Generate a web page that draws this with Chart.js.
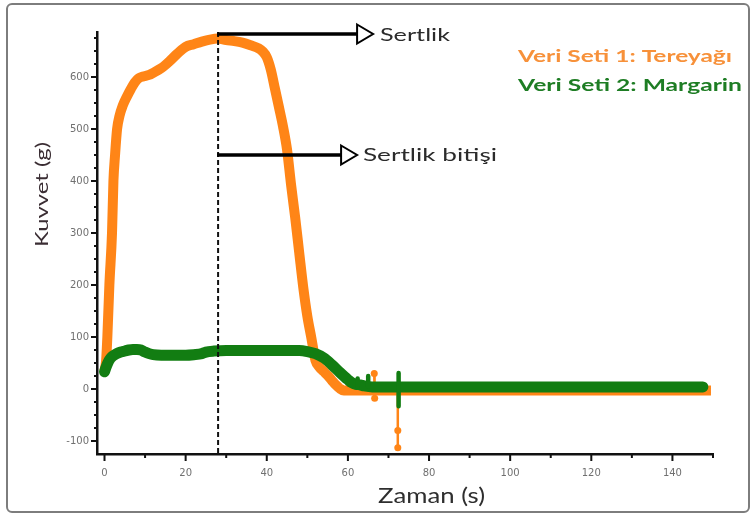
<!DOCTYPE html>
<html>
<head>
<meta charset="utf-8">
<script src="https://cdn.jsdelivr.net/npm/chart.js@4/dist/chart.umd.min.js"></script>
<style>
  html, body { margin: 0; padding: 0; background: #fff; }
  canvas { display: block; }
</style>
</head>
<body>
<canvas id="chart" width="753" height="516"></canvas>
<script>
// Texture analyser run: force (g) against time (s)
const butterTime = [0, 0.4, 0.7, 1.2, 1.85, 2.2, 2.6, 3.1, 3.7, 4.5,
  5.5, 6.5, 7.5, 8.5, 9.5, 11, 12, 14, 15, 16,
  18, 20, 22, 24, 26, 28, 30, 32, 34, 36,
  38, 39, 40, 41, 42, 43, 44, 45, 46, 47,
  48, 49, 50, 51, 52, 53, 54, 55, 56, 57,
  58, 59, 60, 70, 80, 100, 120, 140, 149.5];
const butterForce = [35, 55, 100, 200, 300, 400, 450, 500, 525, 545,
  562, 577, 590, 598, 601, 604, 608, 617, 623, 630,
  645, 658, 663, 668, 672, 674, 671, 669, 666, 661,
  655, 649, 638, 614, 578, 542, 505, 460, 392, 330,
  262, 195, 140, 98, 55, 42, 34, 26, 17, 8,
  1, -3, -3, -3, -3, -3, -3, -3, -3];

// short probe glitches in the butter trace (null breaks the line)
const butterSpikeTime = [66.5, 66.55, 66.6, 70, 72.3, 72.3, 72.3];
const butterSpikeForce = [30, -3, -18, null, -3, -80, -113];

const margarineTime = [0, 0.3, 0.7, 1.2, 2, 3, 4, 5, 6, 7,
  8, 9, 10, 11, 12, 14, 16, 18, 20, 22,
  24, 25, 27, 30, 35, 40, 45, 48, 50, 52,
  54, 56, 58, 60, 61, 62, 63, 64, 66, 70,
  80, 100, 120, 140, 147.5];
const margarineForce = [33, 40, 48, 56, 63, 68, 71, 73, 75, 76,
  76, 75, 71, 68, 66, 65, 65, 65, 65, 66,
  68, 71, 73, 74, 74, 74, 74, 74, 72, 68,
  60, 47, 32, 18, 12, 9, 8, 6, 4, 4,
  4, 4, 4, 4, 4];

const margarineSpikeTime = [62.4, 62.4, null, 65, 65, null, 72.5, 72.5];
const margarineSpikeForce = [5, 20, null, 5, 25, null, 31, -33];

const xTicks = [0, 20, 40, 60, 80, 100, 120, 140];
const yTicks = [-100, 0, 100, 200, 300, 400, 500, 600];

const hardnessTime = 28;      // end of hardness (dashed marker)
const hardnessEndForce = 450; // level of the lower arrow

const seriesNames = ['Veri Seti 1: Tereyağı', 'Veri Seti 2: Margarin'];

const ORANGE = '#FF8517';
const GREEN = '#127D12';
const TXT = 'Lato, "Open Sans", sans-serif';

function pairs(ts, vs) {
  return ts.map((t, i) => ({ x: t === null ? NaN : t, y: vs[i] }));
}

// text squeezed/stretched horizontally to a given width; cy = cap-height centre
function fitText(ctx, text, x, cy, width, size, weight, color, rotate) {
  ctx.save();
  ctx.font = weight + ' ' + size + 'px ' + TXT;
  ctx.fillStyle = color;
  ctx.textAlign = 'left';
  ctx.textBaseline = 'alphabetic';
  const w = ctx.measureText(text).width;
  if (rotate) {
    ctx.translate(cy + 0.36 * size, x);
    ctx.rotate(-Math.PI / 2);
  } else {
    ctx.translate(x, cy + 0.36 * size);
  }
  ctx.scale(width / w, 1);
  ctx.fillText(text, 0, 0);
  ctx.restore();
}

function arrow(ctx, x0, x1, y) {
  const head = 16, half = 9.5;
  ctx.save();
  ctx.strokeStyle = '#000';
  ctx.lineWidth = 3.5;
  ctx.beginPath();
  ctx.moveTo(x0, y);
  ctx.lineTo(x1 - head, y);
  ctx.stroke();
  ctx.lineWidth = 2;
  ctx.lineJoin = 'miter';
  ctx.fillStyle = '#fff';
  ctx.beginPath();
  ctx.moveTo(x1 - head, y - half);
  ctx.lineTo(x1, y);
  ctx.lineTo(x1 - head, y + half);
  ctx.closePath();
  ctx.fill();
  ctx.stroke();
  ctx.restore();
}

const decor = {
  id: 'decor',
  beforeDraw(chart) {
    const ctx = chart.ctx;
    ctx.save();
    ctx.fillStyle = '#fff';
    ctx.fillRect(0, 0, chart.width, chart.height);
    ctx.strokeStyle = '#7d7d7d';
    ctx.lineWidth = 2;
    ctx.beginPath();
    ctx.roundRect(7, 4, 742, 508, 5);
    ctx.stroke();
    ctx.restore();
  },
  afterDatasetsDraw(chart) {
    const ctx = chart.ctx;
    const xs = chart.scales.x, ys = chart.scales.y;
    const area = chart.chartArea;
    const xm = xs.getPixelForValue(hardnessTime);

    // dashed marker at end of hardness
    ctx.save();
    ctx.strokeStyle = '#111';
    ctx.lineWidth = 2;
    ctx.setLineDash([5, 3]);
    ctx.beginPath();
    ctx.moveTo(xm, area.top);
    ctx.lineTo(xm, area.bottom);
    ctx.stroke();
    ctx.restore();

    arrow(ctx, xm - 1, xm + 155, area.top + 2);
    arrow(ctx, xm - 1, xm + 139, ys.getPixelForValue(hardnessEndForce));

    fitText(ctx, 'Sertlik', 380, 34.5, 70, 18, 'normal', '#2b2b2b');
    fitText(ctx, 'Sertlik bitişi', 363, 155, 134, 18, 'normal', '#2b2b2b');
  },
  afterDraw(chart) {
    const ctx = chart.ctx;
    const xs = chart.scales.x, ys = chart.scales.y;
    const area = chart.chartArea;

    // tick marks: long at labelled values, short in between
    ctx.save();
    ctx.strokeStyle = '#111';
    ctx.lineWidth = 2;
    ctx.beginPath();
    for (let t = 0; t <= 150; t += 10) {
      const px = xs.getPixelForValue(t);
      const len = xTicks.includes(t) ? 7 : 4;
      ctx.moveTo(px, area.bottom);
      ctx.lineTo(px, area.bottom + len);
    }
    for (let v = -100; v <= 675; v += 25) {
      const py = ys.getPixelForValue(v);
      const len = yTicks.includes(v) ? 6 : 3;
      ctx.moveTo(area.left, py);
      ctx.lineTo(area.left - len, py);
    }
    ctx.stroke();
    ctx.restore();

    // series key
    fitText(ctx, seriesNames[0], 518, 55.5, 214, 17, 'bold', '#F7913A');
    fitText(ctx, seriesNames[1], 518, 84.5, 224, 17, 'bold', '#1E7D24');

    // axis titles
    fitText(ctx, 'Zaman (s)', 378, 495, 107, 22, 'normal', '#2e2e2e');
    fitText(ctx, 'Kuvvet (g)', 247, 41.5, 105, 18, 'normal', '#3a2d33', true);
  }
};

new Chart(document.getElementById('chart'), {
  type: 'line',
  data: {
    datasets: [
      {
        label: seriesNames[1] + ' (glitch)',
        data: pairs(margarineSpikeTime, margarineSpikeForce),
        borderColor: GREEN,
        backgroundColor: GREEN,
        borderWidth: 4.5,
        borderCapStyle: 'round',
        pointRadius: 0,
        spanGaps: false
      },
      {
        label: seriesNames[1],
        data: pairs(margarineTime, margarineForce),
        borderColor: GREEN,
        borderWidth: 11,
        borderCapStyle: 'round',
        borderJoinStyle: 'round',
        cubicInterpolationMode: 'monotone',
        pointRadius: 0
      },
      {
        label: seriesNames[0] + ' (glitch)',
        data: pairs(butterSpikeTime, butterSpikeForce),
        borderColor: ORANGE,
        backgroundColor: ORANGE,
        borderWidth: 2.5,
        pointRadius: ctx => (ctx.raw && Math.abs(ctx.raw.y) > 10 ? 3.5 : 0),
        pointBorderWidth: 0,
        spanGaps: false
      },
      {
        label: seriesNames[0],
        data: pairs(butterTime, butterForce),
        borderColor: ORANGE,
        borderWidth: 10,
        borderCapStyle: 'butt',
        borderJoinStyle: 'round',
        cubicInterpolationMode: 'monotone',
        pointRadius: 0
      }
    ]
  },
  options: {
    responsive: false,
    animation: false,
    devicePixelRatio: 1,
    layout: { padding: { top: 32, right: 40, left: 0, bottom: 0 } },
    plugins: {
      legend: { display: false },
      tooltip: { enabled: false }
    },
    scales: {
      x: {
        type: 'linear',
        min: -1.85,
        max: 150,
        afterFit(scale) { scale.height = 62; },
        grid: { display: false, drawTicks: false },
        border: { display: true, color: '#111', width: 2.5 },
        ticks: {
          stepSize: 20,
          includeBounds: false,
          padding: 13,
          maxRotation: 0,
          autoSkip: false,
          color: '#707070',
          font: { family: 'DejaVu Sans', size: 10 },
          callback: v => (xTicks.includes(v) ? String(v) : '')
        }
      },
      y: {
        type: 'linear',
        min: -125,
        max: 686.5,
        afterFit(scale) { scale.width = 97; },
        grid: { display: false, drawTicks: false },
        border: { display: true, color: '#111', width: 2.5 },
        ticks: {
          stepSize: 100,
          includeBounds: false,
          padding: 8,
          autoSkip: false,
          color: '#707070',
          font: { family: 'DejaVu Sans', size: 10 },
          callback: v => (yTicks.includes(v) ? String(v) : '')
        }
      }
    }
  },
  plugins: [decor]
});
</script>
</body>
</html>
